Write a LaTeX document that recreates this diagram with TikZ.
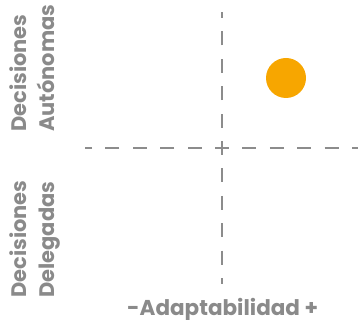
\documentclass[tikz,border=0pt]{standalone}
\usepackage{fontspec}
\setmainfont{Poppins}
\definecolor{axisgray}{HTML}{8C8C8C}
\definecolor{labelgray}{HTML}{8A8A8A}
\definecolor{dotorange}{HTML}{F7A600}
\begin{document}
\begin{tikzpicture}[x=1pt,y=-1pt,
  axisline/.style={draw=axisgray,line width=2.6pt,dash pattern=on 14pt off 13.4pt,dash phase=7pt},
  vlabel/.style={inner sep=0pt,anchor=base west,rotate=90,text=labelgray,font=\fontsize{21}{24}\selectfont\bfseries},
  hlabel/.style={inner sep=0pt,anchor=base west,text=labelgray,font=\fontsize{21.5}{24}\selectfont\bfseries}]
\useasboundingbox (0,0) rectangle (358,320);
\coordinate (c) at (222,148);
\coordinate (top) at (222,12);
\coordinate (bot) at (222,284);
\coordinate (left) at (85,148);
\coordinate (right) at (358,148);
\draw[axisline] (c) -- (top);
\draw[axisline] (c) -- (bot);
\draw[axisline] (c) -- (left);
\draw[axisline] (c) -- (right);
\node[circle,fill=dotorange,minimum size=40pt,inner sep=0pt] (dot) at (286,78) {};
\node[vlabel] (d1) at (26,132) {Decisiones};
\node[vlabel] (a1) at (54,132) {Autónomas};
\node[vlabel] (d2) at (26,298) {Decisiones};
\node[vlabel] (a2) at (54,298) {Delegadas};
\node[hlabel] (ax) at (127,315) {-Adaptabilidad +};
\end{tikzpicture}
\end{document}
